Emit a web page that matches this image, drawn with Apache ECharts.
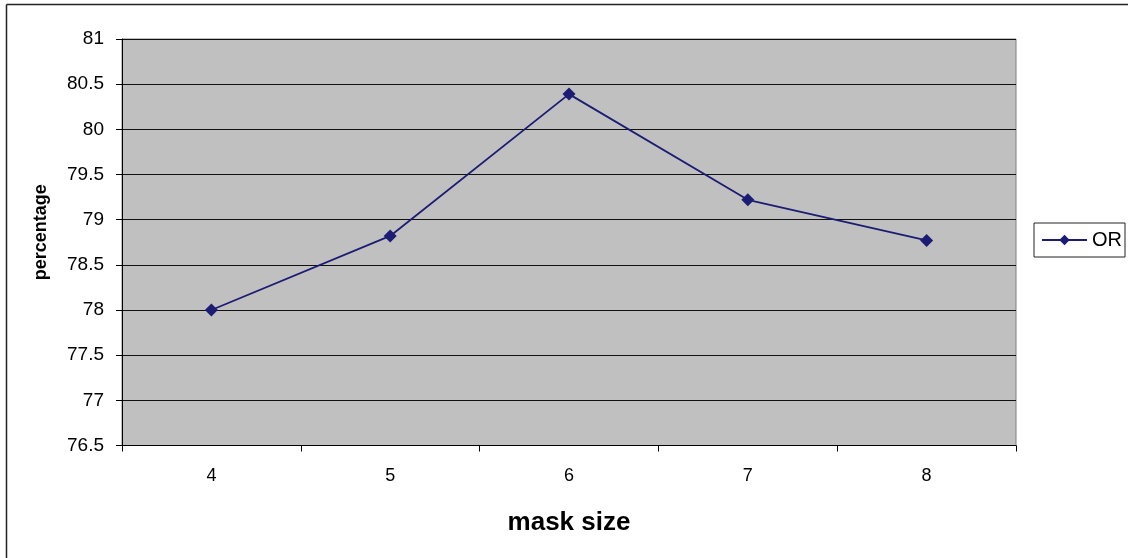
<!DOCTYPE html>
<html>
<head>
<meta charset="utf-8">
<title>OR by mask size</title>
<script src="https://cdn.jsdelivr.net/npm/echarts@6/dist/echarts.min.js"></script>
<style>
  html, body { margin: 0; padding: 0; background: #ffffff; }
  #chart { width: 1128px; height: 558px; }
</style>
</head>
<body>
<div id="chart"></div>
<script>
// Mask sizes on the x axis
const maskSizes = ['4', '5', '6', '7', '8'];
// OR percentage for each mask size
const orValues = [78.0, 78.82, 80.39, 79.22, 78.77];
// Y axis range and step
const yMin = 76.5;
const yMax = 81;
const yStep = 0.5;

const FONT = '"Liberation Sans", Arial, sans-serif';
const chart = echarts.init(document.getElementById('chart'), null, { renderer: 'canvas' });

chart.setOption({
  animation: false,
  backgroundColor: '#ffffff',
  textStyle: { fontFamily: FONT },
  grid: {
    left: 122, top: 39, right: 112, bottom: 112.5,
    show: true,
    backgroundColor: '#c0c0c0',
    borderColor: '#808080',
    borderWidth: 1
  },
  legend: {
    data: ['OR'],
    left: 1034, top: 223,
    orient: 'vertical',
    backgroundColor: '#ffffff',
    borderColor: '#222222',
    borderWidth: 1,
    padding: [7, 3, 7, 7],
    itemWidth: 45,
    itemHeight: 13,
    itemGap: 0,
    textStyle: { fontFamily: FONT, fontSize: 20, color: '#000000', padding: [0, 0, 0, 0] }
  },
  xAxis: {
    type: 'category',
    data: maskSizes,
    boundaryGap: true,
    name: 'mask size',
    nameLocation: 'middle',
    nameGap: 64,
    nameTextStyle: { fontFamily: FONT, fontSize: 26, fontWeight: 'bold', color: '#000000' },
    axisLine: { lineStyle: { color: '#000000', width: 1 } },
    axisTick: { show: true, alignWithLabel: false, length: 6, lineStyle: { color: '#000000' } },
    axisLabel: { fontFamily: FONT, fontSize: 18, color: '#000000', margin: 22 },
    splitLine: { show: false }
  },
  yAxis: {
    type: 'value',
    min: yMin, max: yMax, interval: yStep,
    name: 'percentage',
    nameLocation: 'middle',
    nameGap: 72,
    nameRotate: 90,
    nameTextStyle: { fontFamily: FONT, fontSize: 18, fontWeight: 'bold', color: '#000000', padding: [0, 0, 0, 20] },
    axisLine: { show: true, lineStyle: { color: '#000000', width: 1 } },
    axisTick: { show: true, length: 6, lineStyle: { color: '#000000' } },
    axisLabel: { fontFamily: FONT, fontSize: 19, color: '#000000', margin: 18 },
    splitLine: { show: true, lineStyle: { color: '#111111', width: 1.2 } }
  },
  series: [{
    name: 'OR',
    type: 'line',
    data: orValues,
    symbol: 'diamond',
    symbolSize: 13,
    lineStyle: { color: '#1c1c74', width: 1.8 },
    itemStyle: { color: '#1c1c74' },
    emphasis: { disabled: true }
  }],
  graphic: [
    // outer chart frame (left and top edges)
    { type: 'line', shape: { x1: 6.5, y1: 4.5, x2: 1128, y2: 4.5 }, style: { stroke: '#222222', lineWidth: 1.5 } },
    { type: 'line', shape: { x1: 6.5, y1: 4.5, x2: 6.5, y2: 558 }, style: { stroke: '#222222', lineWidth: 1.5 } }
  ]
});
</script>
</body>
</html>
